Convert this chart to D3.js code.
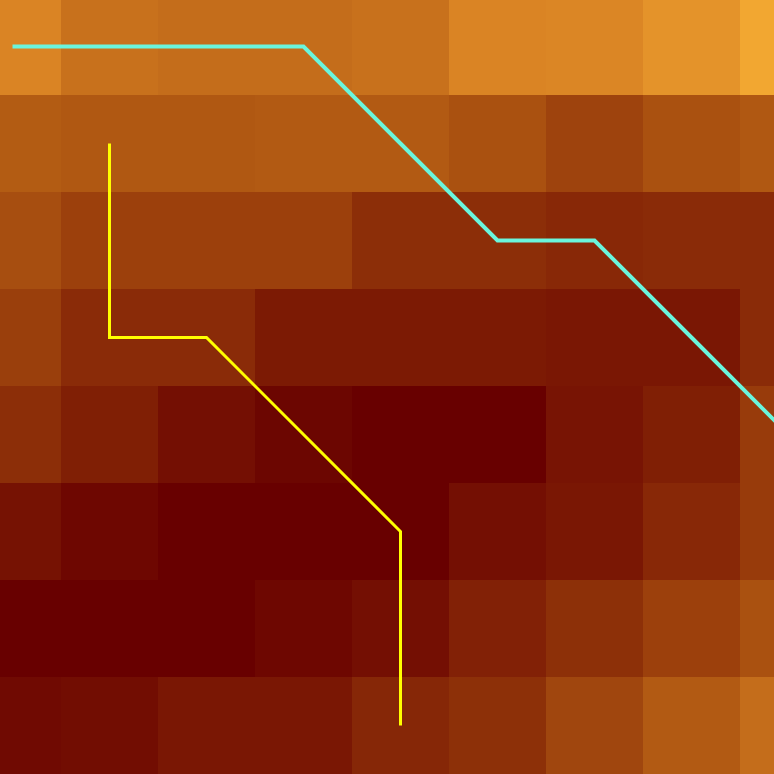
<!DOCTYPE html>
<html>
<head>
<meta charset="utf-8">
<script src="https://cdn.jsdelivr.net/npm/d3@7"></script>
<style>
  html, body { margin: 0; padding: 0; background: #fff; }
  svg { display: block; }
</style>
</head>
<body>
<svg id="heat" width="774" height="774"></svg>
<script>
// grid values, rows top to bottom, columns left to right (0 = darkest, 1 = brightest)
const row0 = [0.75, 0.64, 0.62, 0.62, 0.64, 0.75, 0.76, 0.85, 0.98];
const row1 = [0.52, 0.50, 0.50, 0.51, 0.51, 0.46, 0.375, 0.46, 0.50];
const row2 = [0.44, 0.36, 0.36, 0.36, 0.25, 0.25, 0.22, 0.235, 0.235];
const row3 = [0.35, 0.235, 0.235, 0.14, 0.14, 0.14, 0.125, 0.125, 0.235];
const row4 = [0.25, 0.17, 0.08, 0.03, 0.00, 0.00, 0.11, 0.17, 0.33];
const row5 = [0.10, 0.04, 0.00, 0.00, 0.00, 0.08, 0.125, 0.22, 0.33];
const row6 = [0.00, 0.00, 0.00, 0.04, 0.08, 0.18, 0.26, 0.36, 0.46];
const row7 = [0.055, 0.07, 0.125, 0.125, 0.21, 0.26, 0.39, 0.51, 0.62];
const rows = [row0, row1, row2, row3, row4, row5, row6, row7];

// two paths through cell centres (column, row)
const cyanCols = [0, 1, 2, 3, 4, 5, 6, 7, 8];
const cyanRows = [0, 0, 0, 0, 1, 2, 2, 3, 4];
const yellowCols = [1, 1, 1, 2, 3, 4, 4, 4];
const yellowRows = [1, 2, 3, 3, 4, 5, 6, 7];

const colorStops = ["#680000", "#8c2e08", "#b05812", "#da8424", "#f4aa32"];

const svg = d3.select('#heat');

// one cell = 97px, grid is offset so the first column is only partly shown
const x = d3.scaleLinear().domain([0, 1]).range([12.5, 109.5]);
const y = d3.scaleLinear().domain([0, 1]).range([46.5, 143.5]);

const color = d3.scaleLinear()
    .domain(d3.range(colorStops.length).map(i => i / (colorStops.length - 1)))
    .range(colorStops)
    .interpolate(d3.interpolateRgb);

const cells = [];
rows.forEach((r, j) => r.forEach((v, i) => cells.push({i, j, v})));

svg.append("g")
    .selectAll("rect")
    .data(cells)
    .enter()
    .append("rect")
    .attr("x", d => x(d.i - 0.5))
    .attr("y", d => y(d.j - 0.5))
    .attr("width", d => x(d.i + 0.5) - x(d.i - 0.5))
    .attr("height", d => y(d.j + 0.5) - y(d.j - 0.5))
    .attr("fill", d => color(d.v))
    .attr("shape-rendering", "crispEdges");

const line = d3.line()
    .x(d => x(d[0]))
    .y(d => y(d[1]));

svg.append("path")
    .datum(cyanCols.map((c, k) => [c, cyanRows[k]]))
    .attr("fill", "none")
    .attr("stroke", "#6af5dc")
    .attr("stroke-width", 4)
    .attr("d", line);

svg.append("path")
    .datum(yellowCols.map((c, k) => [c, yellowRows[k]]))
    .attr("fill", "none")
    .attr("stroke", "#ffff00")
    .attr("stroke-width", 3)
    .attr("d", line);
</script>
</body>
</html>
